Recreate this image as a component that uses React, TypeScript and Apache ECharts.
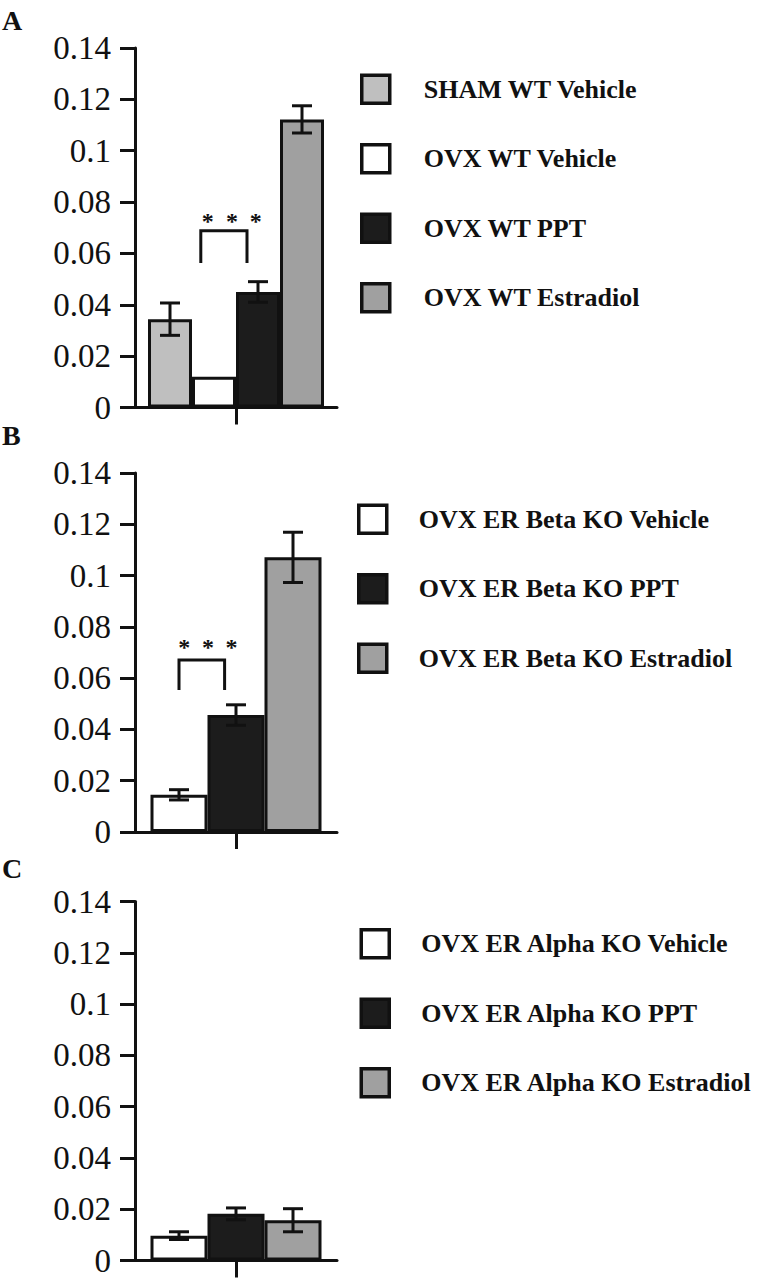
import React, { useEffect, useRef } from 'react';
import * as echarts from 'echarts';

// ---------- data ----------
const panelLabels = ['A', 'B', 'C'];
const yMin = 0;
const yMax = 0.14;
const yStep = 0.02;

const groupsA = ['SHAM WT Vehicle', 'OVX WT Vehicle', 'OVX WT PPT', 'OVX WT Estradiol'];
const meansA = [0.0344, 0.012, 0.045, 0.1122];
const errsA = [0.0063, 0, 0.004, 0.0053];
const colorsA = ['#bfbfbf', '#ffffff', '#1c1c1c', '#a0a0a0'];

const groupsB = ['OVX ER Beta KO Vehicle', 'OVX ER Beta KO PPT', 'OVX ER Beta KO Estradiol'];
const meansB = [0.0145, 0.0456, 0.1071];
const errsB = [0.002, 0.004, 0.0098];
const colorsB = ['#ffffff', '#1c1c1c', '#a0a0a0'];

const groupsC = ['OVX ER Alpha KO Vehicle', 'OVX ER Alpha KO PPT', 'OVX ER Alpha KO Estradiol'];
const meansC = [0.0097, 0.0182, 0.0157];
const errsC = [0.0015, 0.0023, 0.0045];
const colorsC = ['#ffffff', '#1c1c1c', '#a0a0a0'];

// significance brackets (x in bar-index units, y in data units)
const sigA = { from: 0.7, to: 1.75, low: 0.0563, high: 0.0688, starX: [0.86, 1.41, 1.95], starY: 0.0725 };
const sigB = { from: 0.0, to: 0.8, low: 0.0554, high: 0.0671, starX: [0.09, 0.51, 0.92], starY: 0.072 };

// ---------- layout / style ----------
const INK = '#111111';
const SERIF = '"Liberation Serif", "Times New Roman", Times, serif';
const gridsPx = [
  { left: 135, top: 48, width: 202, height: 359.5 },
  { left: 135, top: 473, width: 202, height: 359 },
  { left: 135, top: 901.5, width: 202, height: 359 },
];
const barWidths = [44, 57, 57];
const legendPos = [
  { left: 360, top: 73.5, pad: 29 },
  { left: 357, top: 503.5, pad: 27 },
  { left: 359.5, top: 928, pad: 27 },
];
const labelTops = [6, 421, 854];
const CAP = 20;

const panels = [
  { groups: groupsA, means: meansA, errs: errsA, colors: colorsA, sig: sigA },
  { groups: groupsB, means: meansB, errs: errsB, colors: colorsB, sig: sigB },
  { groups: groupsC, means: meansC, errs: errsC, colors: colorsC, sig: null as any },
];

function buildOption() {
  const grid: any[] = [];
  const xAxis: any[] = [];
  const yAxis: any[] = [];
  const series: any[] = [];
  const legend: any[] = [];

  panels.forEach((p, pi) => {
    grid.push({ ...gridsPx[pi], containLabel: false });
    xAxis.push({
      type: 'category',
      gridIndex: pi,
      data: [''],
      axisLine: { show: true, lineStyle: { color: INK, width: 3 } },
      axisTick: { show: true, alignWithLabel: true, length: 17, lineStyle: { color: INK, width: 3 } },
      axisLabel: { show: false },
      splitLine: { show: false },
    });
    yAxis.push({
      type: 'value',
      gridIndex: pi,
      min: yMin,
      max: yMax,
      interval: yStep,
      axisLine: { show: true, lineStyle: { color: INK, width: 3 } },
      axisTick: { show: true, length: 15, lineStyle: { color: INK, width: 3 } },
      axisLabel: { fontFamily: SERIF, fontSize: 33, color: INK, margin: 24 },
      splitLine: { show: false },
    });

    const n = p.groups.length;
    const bw = barWidths[pi];
    p.groups.forEach((g, i) => {
      series.push({
        type: 'bar',
        name: g,
        xAxisIndex: pi,
        yAxisIndex: pi,
        barWidth: bw,
        barGap: '0%',
        data: [p.means[i]],
        itemStyle: { color: p.colors[i], borderColor: INK, borderWidth: 3 },
        z: 2,
      });
    });

    // error bars
    series.push({
      type: 'custom',
      name: 'err' + pi,
      xAxisIndex: pi,
      yAxisIndex: pi,
      z: 5,
      encode: { x: 0, y: 1 },
      data: p.means.map((m, i) => [0, m, p.errs[i], i]),
      renderItem: (params: any, api: any) => {
        const mean = api.value(1);
        const err = api.value(2);
        const i = api.value(3);
        if (!err) return { type: 'group', children: [] };
        const c = api.coord([0, mean]);
        const x = c[0] + (i - (n - 1) / 2) * bw;
        const yHi = api.coord([0, mean + err])[1];
        const yLo = api.coord([0, mean - err])[1];
        const st = { stroke: INK, lineWidth: 3 };
        return {
          type: 'group',
          children: [
            { type: 'line', shape: { x1: x, y1: yHi, x2: x, y2: yLo }, style: st },
            { type: 'line', shape: { x1: x - CAP / 2, y1: yHi, x2: x + CAP / 2, y2: yHi }, style: st },
            { type: 'line', shape: { x1: x - CAP / 2, y1: yLo, x2: x + CAP / 2, y2: yLo }, style: st },
          ],
        };
      },
    });

    if (p.sig) {
      const s = p.sig;
      series.push({
        type: 'custom',
        name: 'sig' + pi,
        xAxisIndex: pi,
        yAxisIndex: pi,
        z: 5,
        encode: { x: 0, y: 1 },
        data: [[0, s.low, s.high, s.starY]],
        renderItem: (params: any, api: any) => {
          const cx = api.coord([0, 0])[0];
          const bx = (k: number) => cx + (k - (n - 1) / 2) * bw;
          const yLo = api.coord([0, api.value(1)])[1];
          const yHi = api.coord([0, api.value(2)])[1];
          const yS = api.coord([0, api.value(3)])[1];
          const children: any[] = [
            {
              type: 'polyline',
              shape: { points: [[bx(s.from), yLo], [bx(s.from), yHi], [bx(s.to), yHi], [bx(s.to), yLo]] },
              style: { stroke: INK, lineWidth: 3, fill: 'none' },
            },
          ];
          s.starX.forEach((k: number) => {
            children.push({
              type: 'text',
              x: bx(k),
              y: yS,
              style: { text: '*', fontFamily: SERIF, fontWeight: 'bold', fontSize: 24, fill: INK, align: 'center', verticalAlign: 'middle' },
            });
          });
          return { type: 'group', children };
        },
      });
    }

    legend.push({
      data: p.groups,
      orient: 'vertical',
      left: legendPos[pi].left,
      top: legendPos[pi].top,
      padding: 0,
      itemWidth: 28,
      itemHeight: 28,
      itemGap: 38,
      icon: 'rect',
      selectedMode: false,
      itemStyle: { borderColor: INK, borderWidth: 3.5 },
      textStyle: {
        fontFamily: SERIF,
        fontWeight: 'bold',
        fontSize: 26,
        color: INK,
        padding: [0, 0, 0, legendPos[pi].pad],
      },
    });
  });

  return {
    animation: false,
    backgroundColor: '#ffffff',
    grid,
    xAxis,
    yAxis,
    series,
    legend,
    graphic: panelLabels.map((t, i) => ({
      type: 'text',
      left: 2,
      top: labelTops[i],
      style: { text: t, font: `bold 28px ${SERIF}`, fill: INK },
    })),
  };
}

export default function App() {
  const ref = useRef<HTMLDivElement>(null);
  useEffect(() => {
    if (!ref.current) return;
    const chart = echarts.init(ref.current, undefined, { renderer: 'svg' });
    chart.setOption(buildOption() as any);
    return () => chart.dispose();
  }, []);
  return (
    <div
      ref={ref}
      style={{ position: 'absolute', left: 0, top: 0, width: 783, height: 1280, background: '#fff' }}
    />
  );
}
